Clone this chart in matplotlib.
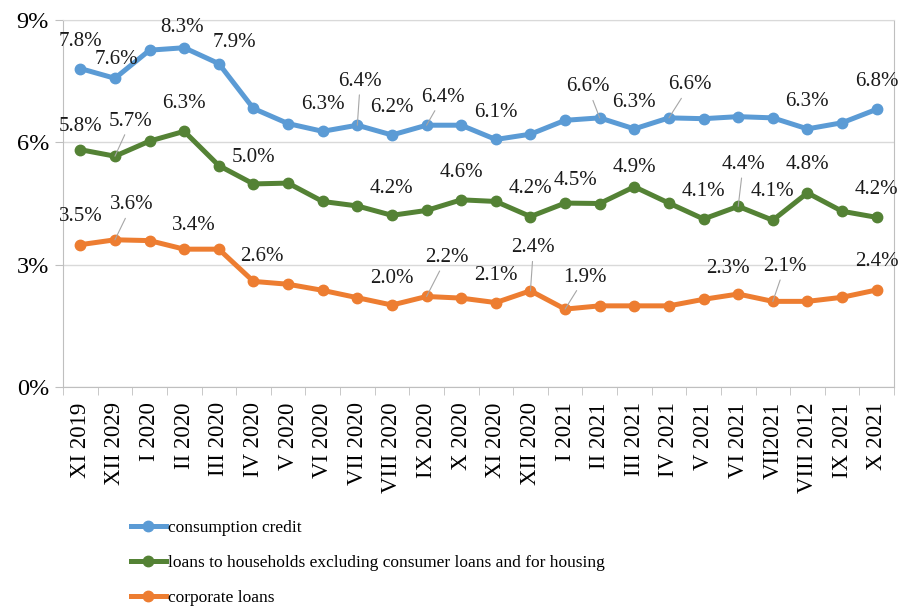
import numpy as np
import matplotlib.pyplot as plt
from matplotlib.ticker import FuncFormatter

months = ["XI 2019", "XII 2029", "I 2020", "II 2020", "III 2020", "IV 2020",
          "V 2020", "VI 2020", "VII 2020", "VIII 2020", "IX 2020", "X 2020",
          "XI 2020", "XII 2020", "I 2021", "II 2021", "III 2021", "IV 2021",
          "V 2021", "VI 2021", "VII2021", "VIII 2012", "IX 2021", "X 2021"]

consumption = [7.81, 7.57, 8.26, 8.32, 7.93, 6.83, 6.46, 6.27, 6.42, 6.18, 6.42, 6.42,
               6.07, 6.20, 6.54, 6.60, 6.33, 6.60, 6.58, 6.63, 6.60, 6.33, 6.48, 6.81]
households = [5.82, 5.66, 6.03, 6.27, 5.43, 4.98, 5.00, 4.55, 4.44, 4.21, 4.33, 4.59,
              4.55, 4.18, 4.51, 4.50, 4.91, 4.51, 4.12, 4.43, 4.09, 4.76, 4.31, 4.16]
corporate = [3.49, 3.61, 3.59, 3.38, 3.38, 2.59, 2.52, 2.37, 2.19, 2.01, 2.22, 2.18,
             2.07, 2.36, 1.91, 1.99, 1.99, 1.99, 2.15, 2.28, 2.10, 2.10, 2.20, 2.38]

names = ["consumption credit",
         "loans to households excluding consumer loans and for housing",
         "corporate loans"]
colors = ["#5B9BD5", "#548235", "#ED7D31"]

# which points carry a value label: index -> (dx, dy) offset in pixels, leader line flag
label_pos = [
    {0: (0, 27, 0), 1: (2, 19, 0), 3: (-2, 20, 0), 4: (16, 21, 0), 7: (0, 27, 0),
     8: (3, 44, 1), 9: (0, 27, 0), 10: (16, 28, 1), 12: (0, 27, 0), 15: (-12, 31, 1),
     16: (0, 26, 0), 17: (21, 33, 1), 21: (0, 27, 0), 23: (0, 28, 0)},
    {0: (0, 23, 0), 1: (16, 35, 1), 3: (0, 28, 0), 5: (0, 26, 0), 9: (0, 27, 0),
     11: (0, 27, 0), 13: (0, 28, 0), 14: (10, 23, 0), 16: (0, 19, 0), 18: (0, 27, 0),
     19: (5, 42, 1), 20: (0, 29, 0), 21: (0, 28, 0), 23: (0, 28, 0)},
    {0: (0, 28, 0), 1: (17, 35, 1), 3: (10, 24, 0), 5: (8, 25, 0), 9: (0, 27, 0),
     10: (20, 39, 1), 12: (0, 27, 0), 13: (3, 43, 1), 14: (20, 32, 1), 19: (-10, 26, 0),
     20: (12, 35, 1), 23: (0, 28, 0)},
]

plt.rcParams['font.family'] = ['Liberation Serif', 'DejaVu Serif']

fig = plt.figure(figsize=(9, 6.08), dpi=100)
ax = fig.add_axes([63/900, 1-387/608, 831/900, 367/608])

x = np.arange(len(months))
series = [consumption, households, corporate]
for vals, name, c, lp in zip(series, names, colors, label_pos):
    ax.plot(x, vals, color=c, lw=3.6, marker='o', ms=7.5, label=name, zorder=3)
    for i, (dx, dy, lead) in lp.items():
        kw = {}
        if lead:
            kw['arrowprops'] = dict(arrowstyle='-', color='#A6A6A6', lw=0.8,
                                    shrinkA=1, shrinkB=0)
        ax.annotate(f"{vals[i]:.1f}%", (x[i], vals[i]), xytext=(dx, dy),
                    textcoords='offset pixels', ha='center', va='center',
                    fontsize=15, color='#1a1a1a', zorder=4, **kw)

ax.set_xlim(-0.5, len(months) - 0.5)
ax.set_ylim(0, 9)
ax.set_yticks([0, 3, 6, 9])
ax.yaxis.set_major_formatter(FuncFormatter(lambda v, p: f"{v:.0f}%"))
ax.set_xticks(x)
ax.set_xticklabels(months, rotation=90, fontsize=16.5)
ax.set_xticks(np.arange(len(months) + 1) - 0.5, minor=True)
ax.tick_params(axis='x', which='major', length=0, pad=11)
ax.tick_params(axis='x', which='minor', length=6, color='#BFBFBF')
ax.tick_params(axis='y', length=6, color='#BFBFBF', labelsize=17.5, pad=4)
ax.grid(axis='y', color='#D9D9D9', lw=1)
ax.set_axisbelow(True)
for s in ax.spines.values():
    s.set_color('#BFBFBF')
ax.spines['top'].set_color('#D9D9D9')

fig.legend(loc='upper left', bbox_to_anchor=(131/900, 1-520/608), frameon=False,
           fontsize=12.5, handlelength=2.0, handletextpad=0.15, labelspacing=1.08,
           borderpad=0, borderaxespad=0)

fig.savefig("out.png", dpi=100)
